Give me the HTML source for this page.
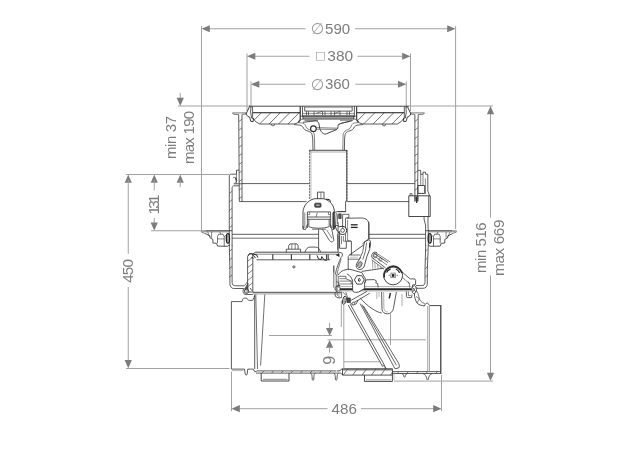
<!DOCTYPE html>
<html lang="de"><head><meta charset="utf-8"><title>Ma&szlig;zeichnung</title>
<style>
html,body{margin:0;padding:0;background:#fff;}
body{width:640px;height:453px;overflow:hidden;font-family:"Liberation Sans",Arial,Helvetica,sans-serif;}
svg{display:block;filter:grayscale(1);}
</style></head><body>
<svg width="640" height="453" viewBox="0 0 640 453">
<rect width="640" height="453" fill="#ffffff"/>
<line x1="201.5" y1="26" x2="201.5" y2="230.5" stroke="#a2a2a2" stroke-width="1" />
<line x1="455.6" y1="26" x2="455.6" y2="229" stroke="#a2a2a2" stroke-width="1" />
<line x1="205" y1="28.75" x2="305.5" y2="28.75" stroke="#a2a2a2" stroke-width="1" />
<line x1="355" y1="28.75" x2="452" y2="28.75" stroke="#a2a2a2" stroke-width="1" />
<polygon points="201.5,28.75 209.8,25.15 209.8,32.35" fill="#7c7c7c"/>
<polygon points="455.5,28.75 447.2,25.15 447.2,32.35" fill="#7c7c7c"/>
<line x1="247" y1="53.5" x2="247" y2="111" stroke="#a2a2a2" stroke-width="1" />
<line x1="410.5" y1="53.5" x2="410.5" y2="111" stroke="#a2a2a2" stroke-width="1" />
<line x1="250" y1="56.25" x2="309.5" y2="56.25" stroke="#a2a2a2" stroke-width="1" />
<line x1="357.5" y1="56.25" x2="407" y2="56.25" stroke="#a2a2a2" stroke-width="1" />
<polygon points="247,56.25 255.3,52.65 255.3,59.85" fill="#7c7c7c"/>
<polygon points="410.5,56.25 402.2,52.65 402.2,59.85" fill="#7c7c7c"/>
<line x1="251" y1="81.5" x2="251" y2="108" stroke="#a2a2a2" stroke-width="1" />
<line x1="406.25" y1="81.5" x2="406.25" y2="108" stroke="#a2a2a2" stroke-width="1" />
<line x1="254" y1="84.25" x2="305.5" y2="84.25" stroke="#a2a2a2" stroke-width="1" />
<line x1="355.5" y1="84.25" x2="403" y2="84.25" stroke="#a2a2a2" stroke-width="1" />
<polygon points="251,84.25 259.3,80.65 259.3,87.85" fill="#7c7c7c"/>
<polygon points="406.25,84.25 397.95,80.65 397.95,87.85" fill="#7c7c7c"/>
<line x1="178" y1="106" x2="250" y2="106" stroke="#a2a2a2" stroke-width="1" />
<line x1="409" y1="106" x2="493" y2="106" stroke="#a2a2a2" stroke-width="1" />
<line x1="180.25" y1="93" x2="180.25" y2="101" stroke="#a2a2a2" stroke-width="1" />
<polygon points="180.25,106 176.65,97.7 183.85,97.7" fill="#7c7c7c"/>
<line x1="126" y1="174.5" x2="229.5" y2="174.5" stroke="#a2a2a2" stroke-width="1" />
<polygon points="128.25,174.5 124.65,182.8 131.85,182.8" fill="#7c7c7c"/>
<polygon points="154.25,174.5 150.65,182.8 157.85,182.8" fill="#7c7c7c"/>
<polygon points="180.25,174.5 176.65,182.8 183.85,182.8" fill="#7c7c7c"/>
<line x1="180.25" y1="180" x2="180.25" y2="187" stroke="#a2a2a2" stroke-width="1" />
<line x1="154.25" y1="180" x2="154.25" y2="190.5" stroke="#a2a2a2" stroke-width="1" />
<line x1="154.25" y1="218" x2="154.25" y2="226" stroke="#a2a2a2" stroke-width="1" />
<polygon points="154.25,230.75 150.65,222.45 157.85,222.45" fill="#7c7c7c"/>
<line x1="151" y1="230.75" x2="201" y2="230.75" stroke="#a2a2a2" stroke-width="1" />
<line x1="128.25" y1="180" x2="128.25" y2="253.75" stroke="#a2a2a2" stroke-width="1" />
<line x1="128.25" y1="287" x2="128.25" y2="363" stroke="#a2a2a2" stroke-width="1" />
<polygon points="128.25,368.3 124.65,360.0 131.85,360.0" fill="#7c7c7c"/>
<line x1="126" y1="368.5" x2="229.5" y2="368.5" stroke="#a2a2a2" stroke-width="1" />
<line x1="231.5" y1="371.5" x2="231.5" y2="411" stroke="#a2a2a2" stroke-width="1" />
<line x1="441.5" y1="375" x2="441.5" y2="411" stroke="#a2a2a2" stroke-width="1" />
<line x1="235" y1="408.7" x2="327.5" y2="408.7" stroke="#a2a2a2" stroke-width="1" />
<line x1="361" y1="408.7" x2="438" y2="408.7" stroke="#a2a2a2" stroke-width="1" />
<polygon points="231.5,408.7 239.8,405.09999999999997 239.8,412.3" fill="#7c7c7c"/>
<polygon points="441.5,408.7 433.2,405.09999999999997 433.2,412.3" fill="#7c7c7c"/>
<line x1="490.5" y1="111" x2="490.5" y2="217.5" stroke="#a2a2a2" stroke-width="1" />
<line x1="490.5" y1="275.5" x2="490.5" y2="376" stroke="#a2a2a2" stroke-width="1" />
<polygon points="490.5,106 486.9,114.3 494.1,114.3" fill="#7c7c7c"/>
<polygon points="490.5,381.1 486.9,372.8 494.1,372.8" fill="#7c7c7c"/>
<line x1="394" y1="381.1" x2="493" y2="381.1" stroke="#a2a2a2" stroke-width="1" />
<line x1="269" y1="335.5" x2="332" y2="335.5" stroke="#a2a2a2" stroke-width="1" />
<line x1="327.5" y1="339.8" x2="426" y2="339.8" stroke="#a2a2a2" stroke-width="1" />
<line x1="329.6" y1="322.9" x2="329.6" y2="329" stroke="#a2a2a2" stroke-width="1" />
<polygon points="329.6,335.65 326.0,328.04999999999995 333.20000000000005,328.04999999999995" fill="#7c7c7c"/>
<polygon points="329.6,339.9 326.0,347.79999999999995 333.20000000000005,347.79999999999995" fill="#7c7c7c"/>
<line x1="329.6" y1="347" x2="329.6" y2="352.7" stroke="#a2a2a2" stroke-width="1" />
<text x="337.6" y="33.95" font-family='"Liberation Sans", Arial, Helvetica, sans-serif' font-size="15.1" fill="#7d7d7d" text-anchor="middle" >590</text>
<text x="340.3" y="60.9" font-family='"Liberation Sans", Arial, Helvetica, sans-serif' font-size="15.5" fill="#7d7d7d" text-anchor="middle" >380</text>
<text x="337.4" y="89.45" font-family='"Liberation Sans", Arial, Helvetica, sans-serif' font-size="15.0" fill="#7d7d7d" text-anchor="middle" >360</text>
<text x="344.2" y="413.5" font-family='"Liberation Sans", Arial, Helvetica, sans-serif' font-size="15.2" fill="#7d7d7d" text-anchor="middle" >486</text>
<text x="133.2" y="270.9" font-family='"Liberation Sans", Arial, Helvetica, sans-serif' font-size="15.3" fill="#7d7d7d" text-anchor="middle" transform="rotate(-90 133.2 270.9)" textLength="23.9" lengthAdjust="spacing">450</text>
<text x="158.6" y="204.52" font-family='"Liberation Sans", Arial, Helvetica, sans-serif' font-size="15.3" fill="#7d7d7d" text-anchor="middle" transform="rotate(-90 158.6 204.52)" textLength="20.08" lengthAdjust="spacing">131</text>
<text x="175.68" y="137.46" font-family='"Liberation Sans", Arial, Helvetica, sans-serif' font-size="15.0" fill="#7d7d7d" text-anchor="middle" transform="rotate(-90 175.68 137.46)" textLength="43.04" lengthAdjust="spacing">min 37</text>
<text x="193.64" y="137.46" font-family='"Liberation Sans", Arial, Helvetica, sans-serif' font-size="15.0" fill="#7d7d7d" text-anchor="middle" transform="rotate(-90 193.64 137.46)" textLength="53.28" lengthAdjust="spacing">max 190</text>
<text x="486.3" y="247.65" font-family='"Liberation Sans", Arial, Helvetica, sans-serif' font-size="15.0" fill="#7d7d7d" text-anchor="middle" transform="rotate(-90 486.3 247.65)" textLength="50.74" lengthAdjust="spacing">min 516</text>
<text x="503.7" y="247.73" font-family='"Liberation Sans", Arial, Helvetica, sans-serif' font-size="15.3" fill="#7d7d7d" text-anchor="middle" transform="rotate(-90 503.7 247.73)" textLength="56.5" lengthAdjust="spacing">max 669</text>
<text x="334.9" y="360.3" font-family='"Liberation Sans", Arial, Helvetica, sans-serif' font-size="16" fill="#7d7d7d" text-anchor="middle" transform="rotate(-90 334.9 360.3)" >9</text>
<text x="317.4" y="34.2" font-family='"DejaVu Sans", sans-serif' font-size="15.5" fill="#9a9a9a" text-anchor="middle" >∅</text>
<text x="317.4" y="89.8" font-family='"DejaVu Sans", sans-serif' font-size="15.5" fill="#9a9a9a" text-anchor="middle" >∅</text>
<text x="320.3" y="59.0" font-family='"DejaVu Sans", sans-serif' font-size="11.3" fill="#9a9a9a" text-anchor="middle" >□</text>
<line x1="249" y1="106.2" x2="409" y2="106.2" stroke="#333333" stroke-width="0.9" />
<path d="M251,106.4 L250.6,112 L251.6,118" stroke="#333333" stroke-width="0.8" fill="none" />
<path d="M252.6,106.6 L252.6,112.7 L300.3,112.7 L300.3,106.6" stroke="#333333" stroke-width="0.8" fill="none" />
<path d="M252.6,112.7 L300.3,112.7 L300.3,119 L297.5,123 L294,124 L259.6,124 L255.5,121.5 L252.6,117.5 Z" stroke="#333333" stroke-width="0.8" fill="none" />
<clipPath id="hcl"><path d="M252.6,112.7 L300.3,112.7 L300.3,119 L297.5,123 L294,124 L259.6,124 L255.5,121.5 L252.6,117.5 Z"/></clipPath>
<g clip-path="url(#hcl)">
<line x1="252.0" y1="112.7" x2="240.7" y2="124" stroke="#333333" stroke-width="0.7" />
<line x1="261.45" y1="112.7" x2="250.15" y2="124" stroke="#333333" stroke-width="0.7" />
<line x1="270.9" y1="112.7" x2="259.6" y2="124" stroke="#333333" stroke-width="0.7" />
<line x1="280.35" y1="112.7" x2="269.05" y2="124" stroke="#333333" stroke-width="0.7" />
<line x1="289.8" y1="112.7" x2="278.5" y2="124" stroke="#333333" stroke-width="0.7" />
<line x1="299.25" y1="112.7" x2="287.95" y2="124" stroke="#333333" stroke-width="0.7" />
<line x1="308.7" y1="112.7" x2="297.4" y2="124" stroke="#333333" stroke-width="0.7" />
<line x1="318.15" y1="112.7" x2="306.85" y2="124" stroke="#333333" stroke-width="0.7" />
</g>
<path d="M271.2,124 a1.8,1.9 0 0 0 3.6,0" stroke="#333333" stroke-width="0.7" fill="none" />
<path d="M246.4,112.9 L232.4,112.9 L233.6,114.3 L238.7,114.5" stroke="#333333" stroke-width="0.65" fill="none" />
<path d="M238.7,114.5 L238.9,140 L239.3,201.5" stroke="#333333" stroke-width="0.8" fill="none" />
<path d="M242.0,201.5 L242.0,114.5" stroke="#333333" stroke-width="0.8" fill="none" />
<path d="M242.0,114.4 L245.6,114.2 L246.4,112.9" stroke="#333333" stroke-width="0.6" fill="none" />
<path d="M249.6,106.4 L246,114 L248,116.6 L249.6,117 L250.8,121.4 L253.2,121.6 L253.4,118.4 L251.6,118" stroke="#2a2a2a" stroke-width="0.9" fill="none" />
<line x1="239.1" y1="121.4" x2="242.0" y2="119.2" stroke="#333333" stroke-width="0.6" />
<line x1="239.1" y1="130.0" x2="242.0" y2="127.8" stroke="#333333" stroke-width="0.6" />
<line x1="239.1" y1="138.6" x2="242.0" y2="136.4" stroke="#333333" stroke-width="0.6" />
<line x1="239.1" y1="147.2" x2="242.0" y2="145.0" stroke="#333333" stroke-width="0.6" />
<line x1="239.1" y1="155.8" x2="242.0" y2="153.6" stroke="#333333" stroke-width="0.6" />
<line x1="239.1" y1="164.4" x2="242.0" y2="162.2" stroke="#333333" stroke-width="0.6" />
<line x1="239.1" y1="173.0" x2="242.0" y2="170.8" stroke="#333333" stroke-width="0.6" />
<line x1="239.1" y1="181.6" x2="242.0" y2="179.4" stroke="#333333" stroke-width="0.6" />
<line x1="239.1" y1="190.2" x2="242.0" y2="188.0" stroke="#333333" stroke-width="0.6" />
<line x1="239.1" y1="198.8" x2="242.0" y2="196.6" stroke="#333333" stroke-width="0.6" />
<path d="M405.9,106.4 L406.3,112 L405.3,118" stroke="#333333" stroke-width="0.8" fill="none" />
<path d="M404.3,106.6 L404.3,112.7 L356.6,112.7 L356.6,106.6" stroke="#333333" stroke-width="0.8" fill="none" />
<path d="M404.3,112.7 L356.6,112.7 L356.6,119 L359.4,123 L362.9,124 L397.3,124 L401.4,121.5 L404.3,117.5 Z" stroke="#333333" stroke-width="0.8" fill="none" />
<clipPath id="hcr"><path d="M404.3,112.7 L356.6,112.7 L356.6,119 L359.4,123 L362.9,124 L397.3,124 L401.4,121.5 L404.3,117.5 Z"/></clipPath>
<g clip-path="url(#hcr)">
<line x1="356.0" y1="112.7" x2="344.7" y2="124" stroke="#333333" stroke-width="0.7" />
<line x1="365.45" y1="112.7" x2="354.15" y2="124" stroke="#333333" stroke-width="0.7" />
<line x1="374.9" y1="112.7" x2="363.6" y2="124" stroke="#333333" stroke-width="0.7" />
<line x1="384.35" y1="112.7" x2="373.05" y2="124" stroke="#333333" stroke-width="0.7" />
<line x1="393.8" y1="112.7" x2="382.5" y2="124" stroke="#333333" stroke-width="0.7" />
<line x1="403.25" y1="112.7" x2="391.95" y2="124" stroke="#333333" stroke-width="0.7" />
<line x1="412.7" y1="112.7" x2="401.4" y2="124" stroke="#333333" stroke-width="0.7" />
<line x1="422.15" y1="112.7" x2="410.85" y2="124" stroke="#333333" stroke-width="0.7" />
</g>
<path d="M382.2,124 a1.8,1.9 0 0 0 3.6,0" stroke="#333333" stroke-width="0.7" fill="none" />
<path d="M410.5,112.9 L424.5,112.9 L423.3,114.3 L418.2,114.5" stroke="#333333" stroke-width="0.65" fill="none" />
<path d="M418.2,114.5 L418.0,140 L417.6,201.5" stroke="#333333" stroke-width="0.8" fill="none" />
<path d="M414.9,201.5 L414.9,114.5" stroke="#333333" stroke-width="0.8" fill="none" />
<path d="M414.9,114.4 L411.3,114.2 L410.5,112.9" stroke="#333333" stroke-width="0.6" fill="none" />
<path d="M407.3,106.4 L410.9,114 L408.9,116.6 L407.3,117 L406.1,121.4 L403.7,121.6 L403.5,118.4 L405.3,118" stroke="#2a2a2a" stroke-width="0.9" fill="none" />
<line x1="414.9" y1="121.4" x2="417.79999999999995" y2="119.2" stroke="#333333" stroke-width="0.6" />
<line x1="414.9" y1="130.0" x2="417.79999999999995" y2="127.8" stroke="#333333" stroke-width="0.6" />
<line x1="414.9" y1="138.6" x2="417.79999999999995" y2="136.4" stroke="#333333" stroke-width="0.6" />
<line x1="414.9" y1="147.2" x2="417.79999999999995" y2="145.0" stroke="#333333" stroke-width="0.6" />
<line x1="414.9" y1="155.8" x2="417.79999999999995" y2="153.6" stroke="#333333" stroke-width="0.6" />
<line x1="414.9" y1="164.4" x2="417.79999999999995" y2="162.2" stroke="#333333" stroke-width="0.6" />
<line x1="414.9" y1="173.0" x2="417.79999999999995" y2="170.8" stroke="#333333" stroke-width="0.6" />
<line x1="414.9" y1="181.6" x2="417.79999999999995" y2="179.4" stroke="#333333" stroke-width="0.6" />
<line x1="414.9" y1="190.2" x2="417.79999999999995" y2="188.0" stroke="#333333" stroke-width="0.6" />
<line x1="414.9" y1="198.8" x2="417.79999999999995" y2="196.6" stroke="#333333" stroke-width="0.6" />
<path d="M300.2,106.2 L300.2,119.5 L298.6,122.6" stroke="#333333" stroke-width="0.8" fill="none" />
<path d="M356.7,106.2 L356.7,119.5 L358.3,122.6" stroke="#333333" stroke-width="0.8" fill="none" />
<path d="M302.5,106.4 L302.5,117.2" stroke="#333333" stroke-width="0.8" fill="none" />
<path d="M354.4,106.4 L354.4,117.2" stroke="#333333" stroke-width="0.8" fill="none" />
<path d="M304.7,106.7 L304.7,111.1 L352.2,111.1 L352.2,106.7" stroke="#333333" stroke-width="0.8" fill="none" />
<line x1="304.7" y1="107.6" x2="352.2" y2="107.6" stroke="#777" stroke-width="0.6" />
<line x1="303" y1="113.4" x2="354" y2="113.4" stroke="#666" stroke-width="0.7" />
<line x1="303" y1="115.4" x2="354" y2="115.4" stroke="#333333" stroke-width="0.7" />
<line x1="306.5" y1="111.2" x2="306.5" y2="115.2" stroke="#333333" stroke-width="0.7" />
<line x1="308.5" y1="111.2" x2="308.5" y2="115.2" stroke="#333333" stroke-width="0.7" />
<line x1="314" y1="111.2" x2="314" y2="115.2" stroke="#333333" stroke-width="0.7" />
<line x1="322.5" y1="111.2" x2="322.5" y2="115.2" stroke="#333333" stroke-width="0.7" />
<line x1="325" y1="111.2" x2="325" y2="115.2" stroke="#333333" stroke-width="0.7" />
<line x1="331" y1="111.2" x2="331" y2="115.2" stroke="#333333" stroke-width="0.7" />
<line x1="334.5" y1="111.2" x2="334.5" y2="115.2" stroke="#333333" stroke-width="0.7" />
<line x1="340" y1="111.2" x2="340" y2="115.2" stroke="#333333" stroke-width="0.7" />
<line x1="347" y1="111.2" x2="347" y2="115.2" stroke="#333333" stroke-width="0.7" />
<line x1="349.5" y1="111.2" x2="349.5" y2="115.2" stroke="#333333" stroke-width="0.7" />
<path d="M316,113.4 l6,-2 M334.5,113.4 l5.5,-2" stroke="#333333" stroke-width="0.6" fill="none" />
<rect x="303" y="116.3" width="50.8" height="2.8" fill="#9a9a9a" stroke="#333333" stroke-width="0.7"/>
<line x1="304.5" y1="120.3" x2="318" y2="120.3" stroke="#333333" stroke-width="0.7" />
<line x1="340" y1="120.3" x2="352.4" y2="120.3" stroke="#333333" stroke-width="0.6" />
<path d="M300.2,116 L303,116.4 M356.7,116 L353.8,116.4" stroke="#333333" stroke-width="0.7" fill="none" />
<path d="M298.6,122.6 L301.5,119 L303,119.2 M358.3,122.6 L355.4,119 L353.8,119.2" stroke="#333333" stroke-width="0.7" fill="none" />
<path d="M294,124.6 L297.8,124.9 C300.5,125 302.6,126 303.6,128.3 C304.6,130 306.5,130.6 308.2,131.2 C310.5,132 311.6,132.6 312,134.5 L312.7,138.2 L313,150" stroke="#333333" stroke-width="0.8" fill="none" />
<path d="M298.6,122.6 L302.6,123 C304.8,123.4 305.5,125.5 306,127 C307,129 309,129.6 310.6,130.2 C312.8,131.4 314,132.6 314.4,135 L314.7,150" stroke="#333333" stroke-width="0.6" fill="none" />
<path d="M363,124.6 L359.2,124.9 C356.4,125 354.3,126 353.3,128.9 C352.3,130.2 350.4,130.6 348.6,131.2 C346.8,132 345.6,132.6 345.2,134.5 L344.6,138.2 L344.4,150" stroke="#333333" stroke-width="0.8" fill="none" />
<path d="M358.3,122.6 L354.3,123 C352.1,123.4 351.4,125.5 350.9,127 C349.9,129 347.9,129.6 346.3,130.2 C344.4,131.4 343.4,132.6 343.1,135 L342.8,150" stroke="#333333" stroke-width="0.6" fill="none" />
<circle cx="313.4" cy="128.7" r="2.8" fill="#fff" stroke="#2a2a2a" stroke-width="1.1"/>
<path d="M303,122.3 L310.5,121.4 L315.7,120.9 C317.4,121 318.4,122 319,124 L319.7,128.3 C320.4,130.5 321.6,132.4 323.4,133.6 C324.4,134.2 325.4,134.2 326.5,133.8 L336.5,129.6 C337.6,129 337.9,128 338,126.6 C338.1,125 339,124.2 340.5,123.6 L345,122.4 L352.6,120.6" stroke="#333333" stroke-width="0.9" fill="none" />
<path d="M316.2,127.6 L338,128.2 M316.2,129.2 L336.8,129.4" stroke="#333333" stroke-width="0.6" fill="none" />
<path d="M337.6,125 L341.7,123.1 L349.8,121.4" stroke="#333333" stroke-width="0.6" fill="none" />
<line x1="309.2" y1="150.3" x2="347" y2="150.3" stroke="#333333" stroke-width="0.9" />
<line x1="309.6" y1="152" x2="346.8" y2="152" stroke="#777" stroke-width="0.6" />
<line x1="309.7" y1="150.2" x2="309.7" y2="199.3" stroke="#333333" stroke-width="0.8" stroke-dasharray="2.2 0.7"/>
<line x1="311" y1="150.2" x2="311" y2="198.5" stroke="#9a9a9a" stroke-width="0.6" />
<path d="M346.8,150.2 L346.8,201.3 L345.6,201.3 L345.6,211.6 L337.6,211.6" stroke="#333333" stroke-width="0.8" fill="none" />
<line x1="346.9" y1="150.2" x2="346.9" y2="201" stroke="#333333" stroke-width="0.8" stroke-dasharray="2.2 0.7"/>
<line x1="242.0" y1="183.6" x2="309.4" y2="183.6" stroke="#333333" stroke-width="0.8" />
<line x1="347.2" y1="183.6" x2="415" y2="183.6" stroke="#333333" stroke-width="0.8" />
<line x1="239.3" y1="201.6" x2="306.5" y2="201.6" stroke="#333333" stroke-width="0.8" />
<line x1="347.2" y1="201.6" x2="409" y2="201.6" stroke="#333333" stroke-width="0.8" />
<path d="M239.3,170.2 L236.5,170.2 L236.5,174.2 L231.2,174.2 C230,174.3 229.3,175 229.3,176.2 L229.3,246" stroke="#333333" stroke-width="0.8" fill="none" />
<path d="M232.1,246 L232.1,187.2 L233.6,185.8 L239.3,185.8 M233.6,183.8 L242,183.8" stroke="#333333" stroke-width="0.8" fill="none" />
<path d="M236.5,174.2 L236.5,183.6 M233,177.4 L235.6,177.4 L236.2,181.8 L234.4,183.4" stroke="#333333" stroke-width="0.6" fill="none" />
<path d="M235.4,178.2 l1.4,2.4" stroke="#222" stroke-width="1.0" fill="none" />
<line x1="229.3" y1="193.4" x2="232.1" y2="191.2" stroke="#333333" stroke-width="0.6" />
<line x1="229.3" y1="202.0" x2="232.1" y2="199.8" stroke="#333333" stroke-width="0.6" />
<line x1="229.3" y1="210.6" x2="232.1" y2="208.4" stroke="#333333" stroke-width="0.6" />
<line x1="229.3" y1="219.2" x2="232.1" y2="217.0" stroke="#333333" stroke-width="0.6" />
<line x1="229.3" y1="227.8" x2="232.1" y2="225.6" stroke="#333333" stroke-width="0.6" />
<path d="M418,170.4 L420.7,170.4 L420.7,174.3 L423,174.3 L423,172.2 L425.6,172.2 L425.6,174.3 L427.8,174.3 L427.8,191 L429.6,195.8" stroke="#333333" stroke-width="0.8" fill="none" />
<path d="M420.7,174.3 L420.7,185.5 M423,174.3 L423,185.5 M425.4,178.4 L425.4,194" stroke="#333333" stroke-width="0.6" fill="none" />
<path d="M418,185.5 L424.7,185.5 L424.7,193.4 L418,193.4 Z" stroke="#333333" stroke-width="0.9" fill="none" />
<path d="M415.1,201.4 L415.1,196 M418,196 L418,201.4" stroke="#333333" stroke-width="0.8" fill="none" />
<line x1="416.6" y1="196.4" x2="416.6" y2="203" stroke="#333" stroke-width="1.2" />
<path d="M408.8,195.8 L430.2,195.8 L430.2,216.5 L408.8,216.5 Z" stroke="#333333" stroke-width="0.9" fill="none" />
<line x1="428.6" y1="195.8" x2="428.6" y2="216.5" stroke="#333333" stroke-width="0.7" />
<path d="M410,195.8 L410,193.6 L412,193.6 L412,195.8" stroke="#333333" stroke-width="0.7" fill="none" />
<path d="M424,216.5 L424.2,220 L425.6,225 L425.6,246" stroke="#333333" stroke-width="0.8" fill="none" />
<path d="M428,216.5 L428,226 L428.3,231 L428.3,246" stroke="#333333" stroke-width="0.8" fill="none" />
<path d="M232.2,230.7 L205.5,230.7" stroke="#333333" stroke-width="0.85" fill="none" />
<path d="M205.5,230.7 L201.3,230.8 L201.4,232.2 L205,233.5" stroke="#777" stroke-width="0.8" fill="none" />
<path d="M205,233.5 L209.8,235.8 L210.2,238 L212.9,239.4 L212.9,243 L216.5,243.3 L217.5,246.1 L227.5,246.3 L229.3,245" stroke="#333333" stroke-width="0.85" fill="none" />
<path d="M202,231.8 L229,231.8" stroke="#555" stroke-width="0.7" fill="none" />
<path d="M217.5,243.2 L217.5,236.6 L218.6,234.2 L223,234.2 L224.2,236.6 L224.2,246.2" stroke="#333333" stroke-width="0.7" fill="none" />
<path d="M217.5,238.9 L224.2,238.9" stroke="#333333" stroke-width="0.6" fill="none" />
<path d="M207.6,231.8 L209.6,236.6" stroke="#333333" stroke-width="0.6" fill="none" />
<path d="M211.6,231.8 L211.6,237.8" stroke="#333333" stroke-width="0.6" fill="none" />
<path d="M219.6,231.8 L221,234.2" stroke="#333333" stroke-width="0.6" fill="none" />
<path d="M224.2,236.6 L226,235.2" stroke="#333333" stroke-width="0.6" fill="none" />
<ellipse cx="227.9" cy="238.4" rx="1.6" ry="4.7" fill="#fff" stroke="#1e1e1e" stroke-width="1.3"/>
<ellipse cx="227.9" cy="238.4" rx="0.4" ry="3.2" fill="none" stroke="#555" stroke-width="0.6"/>
<path d="M229.3,245.4 L229.9,270 L229.9,284 C230.1,287 231.6,288.5 234.4,288.5 L243.5,288.5" stroke="#333333" stroke-width="0.8" fill="none" />
<path d="M232.1,245.4 L232.1,282.8 C232.3,284.8 233.4,285.8 235.6,285.8 L244.2,285.8" stroke="#333333" stroke-width="0.8" fill="none" />
<line x1="229.3" y1="251.4" x2="232.1" y2="249.2" stroke="#333333" stroke-width="0.6" />
<line x1="229.3" y1="260.0" x2="232.1" y2="257.8" stroke="#333333" stroke-width="0.6" />
<line x1="229.3" y1="268.6" x2="232.1" y2="266.4" stroke="#333333" stroke-width="0.6" />
<line x1="229.3" y1="277.2" x2="232.1" y2="275.0" stroke="#333333" stroke-width="0.6" />
<path d="M425.5,230.7 L452.2,230.7" stroke="#333333" stroke-width="0.85" fill="none" />
<path d="M452.2,230.7 L456.4,230.8 L456.3,232.2 L452.7,233.5" stroke="#777" stroke-width="0.8" fill="none" />
<path d="M452.7,233.5 L447.9,235.8 L447.5,238 L444.8,239.4 L444.8,243 L441.2,243.3 L440.2,246.1 L430.2,246.3 L428.4,245" stroke="#333333" stroke-width="0.85" fill="none" />
<path d="M455.7,231.8 L428.7,231.8" stroke="#555" stroke-width="0.7" fill="none" />
<path d="M440.2,243.2 L440.2,236.6 L439.1,234.2 L434.7,234.2 L433.5,236.6 L433.5,246.2" stroke="#333333" stroke-width="0.7" fill="none" />
<path d="M440.2,238.9 L433.5,238.9" stroke="#333333" stroke-width="0.6" fill="none" />
<path d="M450.1,231.8 L448.1,236.6" stroke="#333333" stroke-width="0.6" fill="none" />
<path d="M446.1,231.8 L446.1,237.8" stroke="#333333" stroke-width="0.6" fill="none" />
<path d="M438.1,231.8 L436.7,234.2" stroke="#333333" stroke-width="0.6" fill="none" />
<path d="M433.5,236.6 L431.7,235.2" stroke="#333333" stroke-width="0.6" fill="none" />
<ellipse cx="429.8" cy="238.4" rx="1.6" ry="4.7" fill="#fff" stroke="#1e1e1e" stroke-width="1.3"/>
<ellipse cx="429.8" cy="238.4" rx="0.4" ry="3.2" fill="none" stroke="#555" stroke-width="0.6"/>
<path d="M428.3,245.4 L427.3,270 L427.3,283.8 C427.1,286.8 425.6,288.3 422.9,288.3 L415.6,288.3" stroke="#333333" stroke-width="0.8" fill="none" />
<path d="M425.7,245.4 L425,270 L425,282.6 C424.8,284.6 423.8,285.6 421.8,285.6 L416,285.6" stroke="#333333" stroke-width="0.8" fill="none" />
<line x1="425.2" y1="251.4" x2="427.6" y2="249.2" stroke="#333333" stroke-width="0.6" />
<line x1="425.2" y1="260.0" x2="427.6" y2="257.8" stroke="#333333" stroke-width="0.6" />
<line x1="425.2" y1="268.6" x2="427.6" y2="266.4" stroke="#333333" stroke-width="0.6" />
<line x1="425.2" y1="277.2" x2="427.6" y2="275.0" stroke="#333333" stroke-width="0.6" />
<line x1="232.1" y1="234.3" x2="318.6" y2="234.3" stroke="#333333" stroke-width="0.8" />
<line x1="232.1" y1="238.2" x2="318.6" y2="238.2" stroke="#333333" stroke-width="0.7" />
<line x1="368.7" y1="234.3" x2="425.7" y2="234.3" stroke="#333333" stroke-width="0.8" />
<line x1="368.7" y1="238.3" x2="425.7" y2="238.3" stroke="#333333" stroke-width="0.7" />
<line x1="318.6" y1="229.4" x2="318.6" y2="252" stroke="#333333" stroke-width="0.8" />
<line x1="368.7" y1="222" x2="368.7" y2="238.6" stroke="#333333" stroke-width="0.8" />
<path d="M247.6,256.5 L249.5,253.6 L252.8,253.6 L252.8,292 L248.2,292 L247.6,288 Z" stroke="#333333" stroke-width="0.8" fill="none" />
<line x1="247.6" y1="261.3" x2="252.8" y2="257.1" stroke="#333333" stroke-width="0.6" />
<line x1="247.6" y1="267.7" x2="252.8" y2="263.5" stroke="#333333" stroke-width="0.6" />
<line x1="247.6" y1="274.1" x2="252.8" y2="269.9" stroke="#333333" stroke-width="0.6" />
<line x1="247.6" y1="280.5" x2="252.8" y2="276.3" stroke="#333333" stroke-width="0.6" />
<line x1="247.6" y1="286.9" x2="252.8" y2="282.7" stroke="#333333" stroke-width="0.6" />
<path d="M252.8,254 L255.5,252.2 L338.3,252.2" stroke="#333333" stroke-width="0.9" fill="none" />
<line x1="254.5" y1="254.2" x2="337" y2="254.2" stroke="#333333" stroke-width="0.6" />
<line x1="256.5" y1="259.8" x2="330.2" y2="259.8" stroke="#333333" stroke-width="0.8" />
<line x1="272.8" y1="254.2" x2="272.8" y2="259.8" stroke="#333333" stroke-width="1.1" />
<line x1="291.4" y1="254.2" x2="291.4" y2="259.8" stroke="#333333" stroke-width="1.1" />
<line x1="309.8" y1="254.2" x2="309.8" y2="259.8" stroke="#333333" stroke-width="1.1" />
<path d="M248.2,255.6 C248.6,254.2 250,253.7 251.6,254 L253.6,255.6 L255.6,258.2 M253.4,254.4 L256.6,254.8 L257.8,257.6 M251.4,257.4 l2,1" stroke="#262626" stroke-width="1.0" fill="none" />
<path d="M317,255.4 l1.6,3.6 l2.4,0.6 l0.8,-3 l2.4,3.4 l2.6,0.4 M328.2,254.5 v5.4 M326.6,254.5 v5" stroke="#2a2a2a" stroke-width="1.0" fill="none" />
<path d="M288.7,249 L288.7,245.6 L290,243.9 L296.8,243.9 L298.1,245.6 L298.1,249" stroke="#333333" stroke-width="0.8" fill="none" />
<line x1="291.8" y1="243.9" x2="291.8" y2="249" stroke="#333333" stroke-width="0.6" />
<line x1="295.2" y1="243.9" x2="295.2" y2="249" stroke="#333333" stroke-width="0.6" />
<path d="M286.3,252.2 L286.3,249.2 L300.6,249.2 L300.6,252.2" stroke="#333333" stroke-width="0.8" fill="none" />
<path d="M304.9,252.2 C305.6,249.4 307.4,247.1 310,247.1 L315.6,247.1 C318.4,247.1 319.8,249.4 320.6,252.2" stroke="#333333" stroke-width="0.8" fill="none" />
<circle cx="293.9" cy="266.9" r="1.1" fill="#fff" stroke="#333333" stroke-width="0.8"/>
<line x1="333.8" y1="265.6" x2="333.8" y2="287.5" stroke="#333333" stroke-width="0.7" />
<line x1="252.8" y1="292.3" x2="341" y2="292.3" stroke="#4a4a4a" stroke-width="1.0" />
<line x1="252.8" y1="293.9" x2="341" y2="293.9" stroke="#808080" stroke-width="0.8" />
<path d="M244.2,285.8 C245.6,284.6 246.6,283 247.6,281.6" stroke="#333333" stroke-width="0.7" fill="none" />
<path d="M243.5,288.4 L243,291.5 C243.2,293.4 244.4,294.6 246.2,294.6 L252.8,294.4" stroke="#333333" stroke-width="0.8" fill="none" />
<circle cx="246.6" cy="291.2" r="2.2" fill="#fff" stroke="#333333" stroke-width="0.9"/>
<ellipse cx="246.8" cy="291.2" rx="0.8" ry="1.5" fill="none" stroke="#555" stroke-width="0.6"/>
<path d="M244.4,289.2 L248,283.4 L248,288.8 Z" stroke="#333" stroke-width="0.6" fill="#555" />
<path d="M250.2,288 l1.6,2.6" stroke="#333" stroke-width="0.8" fill="none" />
<path d="M242,301.6 L242.6,299.6 C243,298.4 243.6,298.1 244.6,298.1 L246.6,298.1 L247.6,299.4 C248,300.2 248.6,300.4 249.6,300.4 L252.6,300.4 L254,297.6 L254.8,294.6" stroke="#333333" stroke-width="0.8" fill="none" />
<path d="M242,301.6 L231.4,301.6 L231.4,369.1 L244.5,369.1" stroke="#333333" stroke-width="0.8" fill="none" />
<line x1="254.7" y1="296" x2="254.7" y2="369.1" stroke="#333333" stroke-width="0.8" />
<line x1="255.8" y1="294.5" x2="257.5" y2="369" stroke="#333333" stroke-width="0.7" />
<line x1="264.8" y1="294.5" x2="260.6" y2="365.5" stroke="#333333" stroke-width="0.7" />
<path d="M244.5,369.1 L245.2,374 C245.6,375.6 246.8,375.6 247.2,374 L247.8,369.1 L253.2,369.1 L254.6,371.6 L256.6,371.6" stroke="#333333" stroke-width="0.8" fill="none" />
<line x1="232" y1="370.6" x2="243.5" y2="370.6" stroke="#888" stroke-width="0.6" />
<line x1="256.6" y1="370.9" x2="336" y2="370.9" stroke="#333333" stroke-width="0.8" />
<line x1="256" y1="373.1" x2="336.6" y2="373.1" stroke="#333333" stroke-width="0.8" />
<line x1="264" y1="370.9" x2="262" y2="373.1" stroke="#333333" stroke-width="0.6" />
<line x1="273.6" y1="370.9" x2="271.6" y2="373.1" stroke="#333333" stroke-width="0.6" />
<line x1="283.20000000000005" y1="370.9" x2="281.20000000000005" y2="373.1" stroke="#333333" stroke-width="0.6" />
<line x1="292.80000000000007" y1="370.9" x2="290.80000000000007" y2="373.1" stroke="#333333" stroke-width="0.6" />
<line x1="302.4000000000001" y1="370.9" x2="300.4000000000001" y2="373.1" stroke="#333333" stroke-width="0.6" />
<line x1="312.0000000000001" y1="370.9" x2="310.0000000000001" y2="373.1" stroke="#333333" stroke-width="0.6" />
<line x1="321.60000000000014" y1="370.9" x2="319.60000000000014" y2="373.1" stroke="#333333" stroke-width="0.6" />
<line x1="331.20000000000016" y1="370.9" x2="329.20000000000016" y2="373.1" stroke="#333333" stroke-width="0.6" />
<path d="M261.2,373.1 L261.2,381 L289,381 L289,373.1" stroke="#333333" stroke-width="0.9" fill="none" />
<line x1="263" y1="379.3" x2="287.5" y2="379.3" stroke="#333333" stroke-width="0.6" />
<path d="M310.6,373.1 C311.8,373.6 312.1,375 312.2,379.6 Q313,381 313.8,379.6 C313.9,375 314.2,373.6 315.4,373.1" stroke="#333333" stroke-width="0.8" fill="none" />
<path d="M333.8,373.1 C335.0,373.6 335.3,375 335.4,379.6 Q336.2,381 337.0,379.6 C337.09999999999997,375 337.4,373.6 338.59999999999997,373.1" stroke="#333333" stroke-width="0.8" fill="none" />
<path d="M336.6,371 L340,370.8 L341.4,369 L392.5,369" stroke="#333333" stroke-width="0.85" fill="none" />
<path d="M342.5,369 L392.5,369 L392.5,375.1 L342.5,375.1 Z" stroke="#333333" stroke-width="0.85" fill="none" />
<clipPath id="hmid"><path d="M342.5,369 L392.5,369 L392.5,375.1 L342.5,375.1 Z"/></clipPath>
<g clip-path="url(#hmid)">
<line x1="338.29" y1="369" x2="333.9" y2="375.1" stroke="#333333" stroke-width="0.65" />
<line x1="347.69" y1="369" x2="343.3" y2="375.1" stroke="#333333" stroke-width="0.65" />
<line x1="357.09" y1="369" x2="352.7" y2="375.1" stroke="#333333" stroke-width="0.65" />
<line x1="366.49" y1="369" x2="362.1" y2="375.1" stroke="#333333" stroke-width="0.65" />
<line x1="375.89" y1="369" x2="371.5" y2="375.1" stroke="#333333" stroke-width="0.65" />
<line x1="385.29" y1="369" x2="380.9" y2="375.1" stroke="#333333" stroke-width="0.65" />
<line x1="394.69" y1="369" x2="390.3" y2="375.1" stroke="#333333" stroke-width="0.65" />
<line x1="404.09" y1="369" x2="399.7" y2="375.1" stroke="#333333" stroke-width="0.65" />
</g>
<line x1="342.5" y1="370.6" x2="392.5" y2="370.6" stroke="#8a8a8a" stroke-width="0.6" />
<path d="M336.6,373.1 L341,373.1 L342.5,375.1" stroke="#333333" stroke-width="0.7" fill="none" />
<path d="M364.5,375.1 L364.5,381.4 L392.4,381.4 L392.4,375.1" stroke="#333333" stroke-width="0.9" fill="none" />
<line x1="366" y1="379.8" x2="391" y2="379.8" stroke="#666" stroke-width="0.6" />
<line x1="392.6" y1="371.6" x2="440.5" y2="371.6" stroke="#333333" stroke-width="0.8" />
<line x1="392.6" y1="373.5" x2="440.5" y2="373.5" stroke="#333333" stroke-width="0.8" />
<line x1="399" y1="371.6" x2="397" y2="373.5" stroke="#333333" stroke-width="0.6" />
<line x1="408.6" y1="371.6" x2="406.6" y2="373.5" stroke="#333333" stroke-width="0.6" />
<line x1="418.20000000000005" y1="371.6" x2="416.20000000000005" y2="373.5" stroke="#333333" stroke-width="0.6" />
<line x1="427.80000000000007" y1="371.6" x2="425.80000000000007" y2="373.5" stroke="#333333" stroke-width="0.6" />
<line x1="437.4000000000001" y1="371.6" x2="435.4000000000001" y2="373.5" stroke="#333333" stroke-width="0.6" />
<path d="M401.6,373.5 C403,374 403.6,375 404,376.8 Q404.5,377.8 405,376.8 C405.4,375 406,374 407.4,373.5" stroke="#333333" stroke-width="0.8" fill="none" />
<path d="M423,373.5 C425.4,374.4 426.4,376.4 427,379.4 Q427.6,380.6 428.2,379.4 C428.8,376.4 429.8,374.4 432,373.5" stroke="#333333" stroke-width="0.8" fill="none" />
<line x1="440.8" y1="305.5" x2="440.8" y2="373.9" stroke="#333" stroke-width="1.2" />
<line x1="429.8" y1="305.6" x2="441.2" y2="305.6" stroke="#333333" stroke-width="0.9" />
<line x1="427.7" y1="306" x2="427.7" y2="371.6" stroke="#8a8a8a" stroke-width="0.8" />
<line x1="429.4" y1="306" x2="429.4" y2="371.6" stroke="#8a8a8a" stroke-width="0.8" />
<path d="M406.4,291.4 L406.4,296.6 C406.6,297.4 407,297.6 407.8,297.6 L411.4,297.6 L412.1,294.6" stroke="#333333" stroke-width="0.8" fill="none" />
<path d="M408.4,291.4 L408.4,295.6 L410.6,295.6" stroke="#333333" stroke-width="0.6" fill="none" />
<path d="M412,287 L414.4,285.6 L416.8,287.6 L416.4,291 L414.2,294 L412.2,292.4 Z" stroke="#333333" stroke-width="0.8" fill="#fff" />
<path d="M413,287.8 L415.8,292.2 M415.6,287.4 L412.8,292" stroke="#333" stroke-width="0.7" fill="none" />
<path d="M414.4,294 C414.4,297 415.4,300.4 417,302.9 C418.8,305 421.8,305.6 424.5,306 C425,303.4 427.8,302 428.6,304.2 L429.4,305.6" stroke="#333333" stroke-width="0.85" fill="none" />
<path d="M416.4,291 C417.6,292.4 418.4,294 418.8,296.4 C419.4,299.4 420.4,301.4 422.6,302.6 L424.8,303.6" stroke="#333333" stroke-width="0.7" fill="none" />
<path d="M416,296.4 L419.4,298.8 M417,302.9 L419.4,298.8" stroke="#333333" stroke-width="0.6" fill="none" />
<line x1="402" y1="294" x2="402" y2="306" stroke="#8a8a8a" stroke-width="0.7" />
<line x1="340" y1="289.3" x2="411.8" y2="289.3" stroke="#262626" stroke-width="2.0" />
<line x1="341" y1="286.6" x2="411" y2="286.6" stroke="#777" stroke-width="0.6" />
<line x1="341" y1="291.0" x2="411" y2="291.0" stroke="#888" stroke-width="0.6" />
<circle cx="393.1" cy="275.3" r="9.5" fill="#fff" stroke="#333333" stroke-width="0.9"/>
<path d="M384.2,277.5 A9.2,9.2 0 0 1 402,273" stroke="#2a2a2a" stroke-width="1.6" fill="none" />
<path d="M386.6,272.6 A6.9,6.9 0 0 1 390.6,268.9" stroke="#222" stroke-width="1.3" fill="none" />
<path d="M395.8,269 A6.9,6.9 0 0 1 399.6,272.8" stroke="#222" stroke-width="1.3" fill="none" />
<rect x="390.9" y="273.1" width="4.4" height="4.6" fill="#fff" stroke="#666" stroke-width="0.7"/>
<rect x="391.9" y="274.1" width="2.5" height="2.7" fill="#222"/>
<path d="M388.6,275.4 h1.2 M396.6,275.4 h1.2" stroke="#444" stroke-width="0.8" fill="none" />
<path d="M373.4,252.9 L388,262.6 M401.6,271.6 L410.2,278.9 L414.8,278.9 L415.6,280.4 L415.6,284.5 L412.6,285 L412.2,287.6" stroke="#333333" stroke-width="0.8" fill="none" />
<path d="M375.6,252.6 L390.2,262.0" stroke="#333333" stroke-width="0.6" fill="none" />
<path d="M372.2,257.6 L385.6,268" stroke="#333333" stroke-width="0.8" fill="none" />
<path d="M373.2,255.2 L387,265 M371.6,259.8 L383.8,269" stroke="#333333" stroke-width="0.6" fill="none" />
<path d="M377,252.6 C375.4,251.6 372.8,252.2 371.9,254.4 C371.2,256.6 372.2,258.4 374,259" stroke="#333333" stroke-width="0.8" fill="none" />
<circle cx="375.2" cy="255.6" r="1.9" fill="none" stroke="#333333" stroke-width="0.7"/>
<circle cx="380.4" cy="259.4" r="1.6" fill="none" stroke="#333333" stroke-width="0.6"/>
<line x1="372.4" y1="260.0" x2="372.79999999999995" y2="268.6" stroke="#666" stroke-width="0.6" />
<line x1="374.8" y1="261.8" x2="375.2" y2="268.6" stroke="#666" stroke-width="0.6" />
<line x1="377.6" y1="263.90000000000003" x2="378.0" y2="268.6" stroke="#666" stroke-width="0.6" />
<line x1="380.4" y1="266.0" x2="380.79999999999995" y2="268.6" stroke="#666" stroke-width="0.6" />
<path d="M402.6,277.5 L409.6,283.8 L409.6,287.5" stroke="#333333" stroke-width="0.6" fill="none" />
<path d="M408.2,281.6 l1.2,2.2" stroke="#333" stroke-width="0.8" fill="none" />
<path d="M338.1,275.2 C339.6,272.4 341.6,271 343.5,270.4 L347.7,269.3 C350.8,269.2 353.6,270.2 356,271 L362,272.7" stroke="#333333" stroke-width="0.85" fill="none" />
<path d="M361.6,271.4 L383.8,268.2" stroke="#333333" stroke-width="0.8" fill="none" />
<path d="M338.7,276.3 L345.9,276.3 L345.9,278.7 L351.3,281.1 L351.3,284" stroke="#333333" stroke-width="0.7" fill="none" />
<path d="M339.4,278.7 L345.9,278.7 M339.4,281.1 L351.3,281.1 M339.4,284 L352.6,284" stroke="#333333" stroke-width="0.6" fill="none" />
<path d="M347.1,274 C350,275.4 352.2,278.2 352.6,281.2 L352.6,289.6 C352.7,291.4 353.6,292.3 355.2,292.3 L358.6,292.1 L364.7,288.4 L364.6,283 C365.6,280.6 366,278.4 363.8,276.3 L362,272.7" stroke="#333333" stroke-width="0.85" fill="#fff" />
<path d="M364.6,283.2 L366.4,279.8 L374.2,279.6 L376.4,280.9 L375.8,282.9 L377.6,283.4 L378.2,287.4" stroke="#333333" stroke-width="0.8" fill="none" />
<path d="M364.2,279.9 L361.75,284.14 L356.85,284.14 L354.4,279.9 L356.85,275.66 L361.75,275.66 Z" stroke="#333333" stroke-width="0.9" fill="#fff" />
<ellipse cx="359.3" cy="279.9" rx="0.9" ry="1.5" fill="#fff" stroke="#222" stroke-width="0.9"/>
<path d="M349.6,255 L363.8,244.8 L364.7,241.7 L369.1,239.6 C370.2,240.2 370.6,241.6 370.4,243.4 L369.6,249.6 L366.9,256.4 L364.6,265 C364,268 361.6,269.9 359.2,269.5 C356.6,269 355.5,266.4 356.6,263.8 L360.6,257.2" stroke="#333333" stroke-width="0.85" fill="none" />
<path d="M363.8,244.8 L362.8,251.6 L359.4,259.4 M366.6,242.6 L365.4,251.4 L362.8,259.6" stroke="#333333" stroke-width="0.7" fill="none" />
<ellipse cx="359.9" cy="264.6" rx="1.9" ry="3.1" transform="rotate(24 359.9 264.6)" fill="#fff" stroke="#333333" stroke-width="0.8"/>
<ellipse cx="359.9" cy="264.6" rx="0.8" ry="1.7" transform="rotate(24 359.9 264.6)" fill="none" stroke="#555" stroke-width="0.6"/>
<line x1="369.9" y1="242.6" x2="369.5" y2="247.6" stroke="#222" stroke-width="1.2" />
<path d="M349.6,255 L360.4,255 M348.2,259.2 L358.6,259.2" stroke="#333333" stroke-width="0.7" fill="none" />
<path d="M350,257.2 L358,257.2" stroke="#999" stroke-width="0.6" fill="none" />
<path d="M348.2,257 L348.2,270" stroke="#333333" stroke-width="0.8" fill="none" />
<path d="M349.6,255 C348.6,255.4 348.2,256 348.2,257" stroke="#333333" stroke-width="0.7" fill="none" />
<path d="M338.3,252.2 L341.5,252.8 C343,254 342.6,256 341.2,257.2 L339.6,260.5 L336.4,269.5 L335.4,274.5" stroke="#333333" stroke-width="0.8" fill="none" />
<path d="M336.4,255 l2.4,-1.4 l0.4,2.8 z" stroke="#222" stroke-width="0.8" fill="#222" />
<path d="M341.2,258.8 L338,269.8 L336.8,276" stroke="#333333" stroke-width="0.6" fill="none" />
<line x1="333.8" y1="265.6" x2="333.8" y2="272.5" stroke="#333333" stroke-width="0.7" />
<path d="M336.2,274.5 L336.2,291 M338.2,276 L338.2,286.5" stroke="#333333" stroke-width="0.7" fill="none" />
<path d="M336.2,281.5 L338.8,282.5 L338.8,286 L336.2,287" stroke="#333333" stroke-width="0.7" fill="none" />
<line x1="338.1" y1="222" x2="338.1" y2="252.2" stroke="#333333" stroke-width="0.8" />
<path d="M339.6,231 L339.6,248.3 L346.3,248.3 L346.3,241.2 L351.4,241.2 L351.4,255" stroke="#333333" stroke-width="0.8" fill="none" />
<path d="M341.5,236 L341.5,244 M343.4,236 L343.4,241.2 L346.3,241.2" stroke="#333333" stroke-width="0.6" fill="none" />
<path d="M381.6,292 L382,309.5 C382.4,312.6 385,314 387.8,313.8 C391,313.6 392.6,311.5 393.4,308.6 L396.4,292" stroke="#333333" stroke-width="0.8" fill="none" />
<path d="M383.6,292 L383.9,308.5 C384.3,311 386,312 387.8,311.9" stroke="#777" stroke-width="0.6" fill="none" />
<path d="M390.4,293 L389.2,298.4" stroke="#222" stroke-width="1.4" fill="none" />
<line x1="376.8" y1="292" x2="376.8" y2="299" stroke="#888" stroke-width="0.6" />
<line x1="379" y1="292" x2="379" y2="297" stroke="#888" stroke-width="0.6" />
<path d="M360.2,297.8 C363,301.4 367,305.4 372,308.6 C375.4,310.8 378.6,312.6 381.8,313" stroke="#333333" stroke-width="0.8" fill="none" />
<path d="M339.9,285.4 C336.4,285.4 334.8,286.8 335,288.8 C335.1,290.2 336,291 337.4,291.3 C335.6,291.8 334.8,293 335,294.6 C335.2,296.9 336.8,297.9 339.8,297.9 L341.6,297.6" stroke="#333333" stroke-width="0.85" fill="none" />
<path d="M339.6,287 C337.6,287.2 336.8,288 337,289.2 C337.2,290.2 338,290.6 339.4,290.8 M339.6,292.2 C337.8,292.6 337,293.4 337.2,294.6 C337.4,295.8 338.4,296.2 339.8,296.2" stroke="#444" stroke-width="0.7" fill="none" />
<path d="M339.9,285.4 L339.9,291.6 M341.6,291.6 L341.6,297.6" stroke="#333333" stroke-width="0.7" fill="none" />
<ellipse cx="344.4" cy="300.2" rx="1.7" ry="4.3" transform="rotate(14 344.4 300.2)" fill="#fff" stroke="#333333" stroke-width="0.9"/>
<ellipse cx="344.4" cy="300.2" rx="0.5" ry="2.6" transform="rotate(14 344.4 300.2)" fill="none" stroke="#666" stroke-width="0.6"/>
<path d="M343,292.2 L345.6,295 M345.8,292.2 L347.6,297.6" stroke="#333333" stroke-width="0.7" fill="none" />
<rect x="347" y="298" width="3.2" height="4.4" fill="#4a4a4a" stroke="#222" stroke-width="0.7"/>
<path d="M350.2,300.6 L351.9,299.9 L367.1,291.3 M352.6,302.6 L355.2,301.9 L369.7,293.2" stroke="#333333" stroke-width="0.8" fill="none" />
<path d="M350.2,302.4 L352.4,305 L356,304 L358.2,300.2" stroke="#333333" stroke-width="0.8" fill="none" />
<circle cx="353.4" cy="303.6" r="1.3" fill="#fff" stroke="#333333" stroke-width="0.7"/>
<path d="M348.2,305 L382.6,366.6 M350.2,304.2 L384.9,366" stroke="#333333" stroke-width="0.8" fill="none" />
<path d="M360.1,303.5 L393.8,366.6 M361.9,304.6 L396.4,365.2 M363.5,306 L398.6,363.2" stroke="#333333" stroke-width="0.75" fill="none" />
<path d="M393.8,366.6 L395,368.8 L399,367.8 L399.4,365.6 L398.6,363.2" stroke="#333333" stroke-width="0.8" fill="none" />
<path d="M382.6,364.6 L386.2,368.9 M384.9,366 L386.2,368.9" stroke="#333333" stroke-width="0.7" fill="none" />
<line x1="341.3" y1="300.5" x2="341.3" y2="327" stroke="#8a8a8a" stroke-width="0.8" />
<line x1="343.8" y1="305" x2="343.8" y2="369.8" stroke="#8a8a8a" stroke-width="0.8" />
<line x1="390.5" y1="313.5" x2="390.5" y2="345" stroke="#8a8a8a" stroke-width="0.8" />
<line x1="343.8" y1="361.8" x2="380.6" y2="361.8" stroke="#8a8a8a" stroke-width="0.8" />
<line x1="394" y1="371.6" x2="394" y2="380" stroke="#8a8a8a" stroke-width="0.6" />
<path d="M303,229 L303,211.5 C303.6,206 307.4,200.4 314.5,198.7 L323.5,198.7 C330.2,200.2 333.9,205.6 334.4,211 L334.4,229" stroke="#333333" stroke-width="0.9" fill="none" />
<path d="M304.8,228 L304.8,212.5 M332.6,228 L332.6,212.5" stroke="#333333" stroke-width="0.6" fill="none" />
<path d="M326,199.2 L329.4,199.6 L330.6,201.6" stroke="#222" stroke-width="1.0" fill="none" />
<path d="M317.5,198.7 L317.5,192.1 L324,192.1 L324,198.7" stroke="#333333" stroke-width="0.8" fill="none" />
<line x1="320.9" y1="192.1" x2="320.9" y2="198.7" stroke="#333333" stroke-width="0.6" />
<rect x="314.7" y="203.2" width="6.3" height="4" rx="0.9" fill="#555" stroke="#222" stroke-width="0.7"/>
<rect x="316.2" y="204.6" width="3.4" height="1.2" fill="#bbb"/>
<path d="M307.4,228 L307.4,211.9 L330.6,211.9 L330.6,228" stroke="#333333" stroke-width="0.8" fill="none" />
<path d="M307.4,214.6 L309.6,214.6 L309.6,212 M330.6,214.6 L328.4,214.6 L328.4,212" stroke="#333333" stroke-width="0.6" fill="none" />
<line x1="307.4" y1="217" x2="330.6" y2="217" stroke="#333333" stroke-width="0.8" />
<line x1="307.4" y1="219.3" x2="330.6" y2="219.3" stroke="#333333" stroke-width="0.8" />
<line x1="317.2" y1="212.5" x2="316.2" y2="217" stroke="#333333" stroke-width="0.6" />
<path d="M303,226 L303.4,229.4 L305.6,229.4 L307.4,224.5 M334.4,226 L334,229.4 L331.8,229.4 L330.6,224.5" stroke="#333333" stroke-width="0.8" fill="none" />
<path d="M308.8,219.3 L308.8,226.6 C312,228.6 325,228.8 329.2,226.6 L329.2,219.3" stroke="#333333" stroke-width="0.8" fill="none" />
<path d="M312,229.2 L326,229.2" stroke="#333333" stroke-width="0.7" fill="none" />
<path d="M322.5,229.4 L329.5,240.5 C331,242.6 333.6,242.2 333.8,239.8 L331.8,229.6" stroke="#333333" stroke-width="0.8" fill="none" />
<path d="M326.6,229.8 L332,238.4" stroke="#333333" stroke-width="0.6" fill="none" />
<path d="M334.6,212.4 L337.6,211.6 L345.6,211.6" stroke="#333333" stroke-width="0.8" fill="none" />
<path d="M336.3,212.8 L335.4,225.4 M337.8,213.8 L337.2,224" stroke="#333333" stroke-width="0.7" fill="none" />
<rect x="338.8" y="213.9" width="2.3" height="4.7" fill="#666" stroke="#222" stroke-width="0.7"/>
<path d="M342.6,214.3 L348.9,214.3 L348.9,217.8 L346.4,217.8 M342.6,214.3 L342.6,228 M345.5,217.8 L345.5,228.4" stroke="#333333" stroke-width="0.75" fill="none" />
<path d="M335.3,225.4 C336.6,225 338.4,225.8 339.6,226.8 C340.6,226.4 341.6,226.2 342.6,226.3 C345,226.5 346.7,228.2 346.7,230.4 C346.7,232.8 344.9,234.5 342.6,234.5 C340.6,234.5 339.2,233.6 338.6,232 C337,231 335.6,228.6 335.3,225.4 Z" stroke="#2a2a2a" stroke-width="1.0" fill="none" />
<circle cx="342.6" cy="230.4" r="1.9" fill="#fff" stroke="#333333" stroke-width="0.8"/>
<path d="M337.7,234 L337.7,250 M339.2,236 L339.2,248" stroke="#333333" stroke-width="0.7" fill="none" />
<path d="M345.5,234 L345.5,241.2" stroke="#333333" stroke-width="0.7" fill="none" />
<line x1="333.5" y1="211.5" x2="333.5" y2="229" stroke="#2a2a2a" stroke-width="0.9" />
<path d="M346.4,218.2 L362,218 C366.2,218.2 368.8,220.6 369,224.5 L369,238.6 L362.5,243.8" stroke="#333333" stroke-width="0.8" fill="none" />
<path d="M347.6,219.8 L347.6,240.8 L350.8,240.8" stroke="#333333" stroke-width="0.6" fill="none" />
<line x1="350.8" y1="224.8" x2="357.6" y2="224.8" stroke="#222" stroke-width="1.3" />
<line x1="350.8" y1="227.4" x2="357.6" y2="227.4" stroke="#222" stroke-width="1.3" />
</svg>
</body></html>
